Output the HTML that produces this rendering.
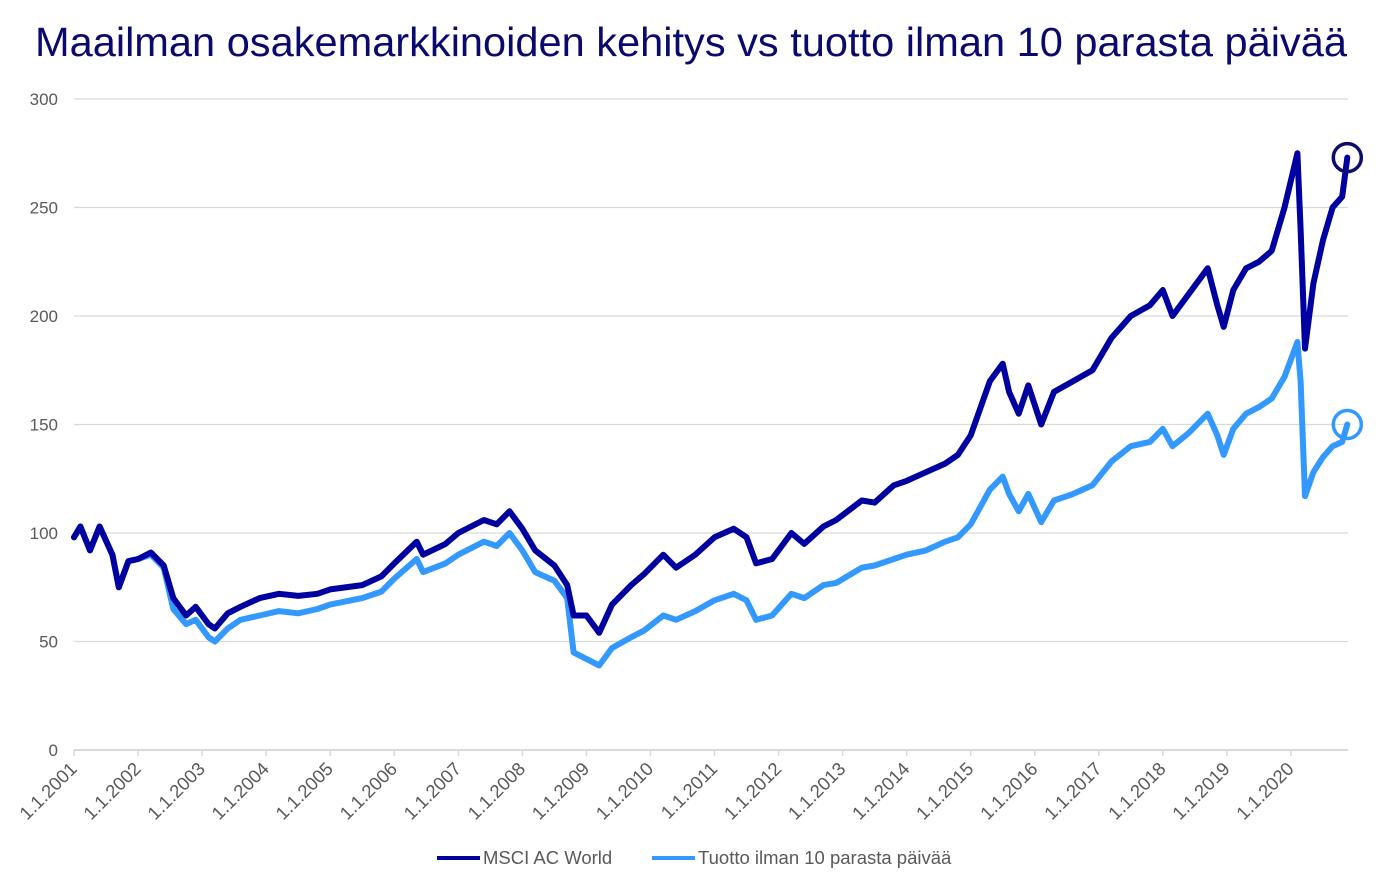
<!DOCTYPE html>
<html><head><meta charset="utf-8"><style>
body{margin:0;background:#fff;}
svg{display:block;font-family:"Liberation Sans",sans-serif;}
</style></head><body>
<svg id="chart" width="1386" height="888">
<text x="691" y="56" text-anchor="middle" font-size="41" fill="#0a0a6e" textLength="1312" lengthAdjust="spacingAndGlyphs">Maailman osakemarkkinoiden kehitys vs tuotto ilman 10 parasta päivää</text>
<g id="grid"></g><g id="xaxis"></g><g id="series"></g>
<g>
<g><line x1="437" y1="858" x2="480" y2="858" stroke="#0000a0" stroke-width="4"/><text x="483" y="864" font-size="18.5" fill="#595959">MSCI AC World</text></g>
<g><line x1="652" y1="858" x2="695" y2="858" stroke="#3399ff" stroke-width="4"/><text x="698" y="864" font-size="18.5" fill="#595959">Tuotto ilman 10 parasta päivää</text></g>
</g>
</svg>
<script>
const dates=[2001.0,2001.1,2001.25,2001.4,2001.6,2001.7,2001.85,2002.0,2002.2,2002.4,2002.55,2002.75,2002.9,2003.1,2003.2,2003.4,2003.6,2003.9,2004.2,2004.5,2004.8,2005.0,2005.5,2005.8,2006.0,2006.35,2006.45,2006.8,2007.0,2007.4,2007.6,2007.8,2008.0,2008.2,2008.5,2008.7,2008.8,2009.0,2009.2,2009.4,2009.7,2009.9,2010.2,2010.4,2010.7,2011.0,2011.3,2011.5,2011.65,2011.9,2012.2,2012.4,2012.7,2012.9,2013.3,2013.5,2013.8,2014.0,2014.3,2014.6,2014.8,2015.0,2015.3,2015.5,2015.6,2015.75,2015.9,2016.1,2016.3,2016.6,2016.9,2017.2,2017.5,2017.8,2018.0,2018.15,2018.4,2018.7,2018.85,2018.95,2019.1,2019.3,2019.5,2019.7,2019.9,2020.1,2020.15,2020.22,2020.35,2020.5,2020.65,2020.8,2020.88];
const msci=[98,103,92,103,90,75,87,88,91,85,70,62,66,58,56,63,66,70,72,71,72,74,76,80,86,96,90,95,100,106,104,110,102,92,85,76,62,62,54,67,76,81,90,84,90,98,102,98,86,88,100,95,103,106,115,114,122,124,128,132,136,145,170,178,165,155,168,150,165,170,175,190,200,205,212,200,210,222,205,195,212,222,225,230,250,275,240,185,215,235,250,255,273];
const ilman=[98,103,92,103,90,75,87,88,90,84,65,58,60,52,50,56,60,62,64,63,65,67,70,73,79,88,82,86,90,96,94,100,92,82,78,70,45,42,39,47,52,55,62,60,64,69,72,69,60,62,72,70,76,77,84,85,88,90,92,96,98,104,120,126,118,110,118,105,115,118,122,133,140,142,148,140,146,155,145,136,148,155,158,162,172,188,170,117,128,135,140,142,150];
const yTicks=[0,50,100,150,200,250,300];
const xYears=[2001,2002,2003,2004,2005,2006,2007,2008,2009,2010,2011,2012,2013,2014,2015,2016,2017,2018,2019,2020];
const NS="http://www.w3.org/2000/svg";
const X=t=>74+(t-2001)*64.05, Y=v=>750-v*(651/300);
function mk(tag,attrs,parent){const e=document.createElementNS(NS,tag);for(const k in attrs)e.setAttribute(k,attrs[k]);parent.appendChild(e);return e;}
const grid=document.getElementById('grid');
yTicks.forEach(v=>{
 if(v>0){const l=mk('line',{x1:74,x2:1348,y1:Y(v),y2:Y(v),stroke:'#d9d9d9','stroke-width':1.3},grid);
 
 }
 const t=mk('text',{x:58,y:Y(v)+6,'text-anchor':'end','font-size':17,fill:'#595959'},grid);
 
 
 t.textContent=v;
});
const xa=document.getElementById('xaxis');
const ax=mk('line',{x1:74,x2:1348,y1:750,y2:750,stroke:'#d9d9d9','stroke-width':2},xa);


xYears.forEach(y=>{
 const x=X(y);
 mk('line',{x1:x,x2:x,y1:750,y2:756,stroke:'#d9d9d9','stroke-width':1.5},xa);
 const t=mk('text',{x:x+4,y:770,'text-anchor':'end','font-size':18.5,fill:'#595959',transform:`rotate(-45 ${x+4} 770)`},xa);
 
 
 t.textContent='1.1.'+y;
});
const sg=document.getElementById('series');
function line(vals,color,name){
 const d=vals.map((v,i)=>(i?'L':'M')+X(dates[i]).toFixed(1)+','+Y(v).toFixed(1)).join('');
 const p=mk('path',{d:d,fill:'none',stroke:color,'stroke-width':6,'stroke-linejoin':'round','stroke-linecap':'round'},sg);
 
 
}
line(ilman,'#3399ff','line-ilman-10-parasta');
line(msci,'#0000a0','line-msci-ac-world');
const n=dates.length-1;
const c1=mk('circle',{cx:X(dates[n]),cy:Y(msci[n]),r:14,fill:'none',stroke:'#0d0d6b','stroke-width':3.5},sg);


const c2=mk('circle',{cx:X(dates[n]),cy:Y(ilman[n]),r:14,fill:'none',stroke:'#3399ff','stroke-width':3.5},sg);


</script>
</body></html>
